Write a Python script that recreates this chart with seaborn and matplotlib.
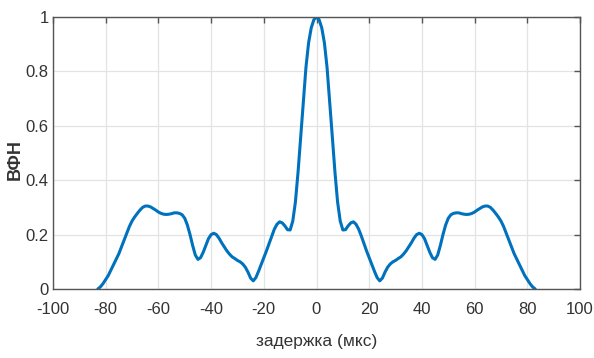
import numpy as np
import pandas as pd
import matplotlib
matplotlib.use("Agg")
import matplotlib.pyplot as plt
import seaborn as sns
from matplotlib import font_manager

# ---- data ----
delay_us = list(range(-83, 84))
vfn_left = [0.0, 0.008, 0.02, 0.035, 0.05, 0.07, 0.09, 0.11, 0.13, 0.155,
            0.18, 0.205, 0.23, 0.25, 0.265, 0.278, 0.29, 0.3, 0.305, 0.305,
            0.302, 0.296, 0.29, 0.283, 0.278, 0.275, 0.274, 0.275, 0.277, 0.28,
            0.28, 0.278, 0.273, 0.26, 0.235, 0.2, 0.16, 0.125, 0.109, 0.115,
            0.135, 0.16, 0.185, 0.2, 0.205, 0.2, 0.187, 0.17, 0.155, 0.14,
            0.128, 0.118, 0.112, 0.105, 0.1, 0.092, 0.08, 0.062, 0.04, 0.03,
            0.042, 0.065, 0.09, 0.115, 0.14, 0.167, 0.195, 0.22, 0.238, 0.247,
            0.243, 0.232, 0.218, 0.217, 0.25, 0.32, 0.43, 0.56, 0.69, 0.815,
            0.905, 0.96, 0.99]
vfn_center = [1.0]
vfn_right = [0.99, 0.96, 0.905, 0.815, 0.69, 0.56, 0.43, 0.32, 0.25, 0.217,
             0.218, 0.232, 0.243, 0.247, 0.238, 0.22, 0.195, 0.167, 0.14, 0.115,
             0.09, 0.065, 0.042, 0.03, 0.04, 0.062, 0.08, 0.092, 0.1, 0.105,
             0.112, 0.118, 0.128, 0.14, 0.155, 0.17, 0.187, 0.2, 0.205, 0.2,
             0.185, 0.16, 0.135, 0.115, 0.109, 0.125, 0.16, 0.2, 0.235, 0.26,
             0.273, 0.278, 0.28, 0.28, 0.277, 0.275, 0.274, 0.275, 0.278, 0.283,
             0.29, 0.296, 0.302, 0.305, 0.305, 0.3, 0.29, 0.278, 0.265, 0.25,
             0.23, 0.205, 0.18, 0.155, 0.13, 0.11, 0.09, 0.07, 0.05, 0.035,
             0.02, 0.008, 0.0]
vfn = vfn_left + vfn_center + vfn_right

x_ticks = [-100, -80, -60, -40, -20, 0, 20, 40, 60, 80, 100]
y_ticks = [0, 0.2, 0.4, 0.6, 0.8, 1]
y_tick_labels = ["0", "0.2", "0.4", "0.6", "0.8", "1"]
x_label = "задержка (мкс)"
y_label = "ВФН"

df = pd.DataFrame({"delay": delay_us, "vfn": vfn})

sns.set_style("white")
names = {f.name for f in font_manager.fontManager.ttflist}
tick_font = "Liberation Sans Narrow" if "Liberation Sans Narrow" in names else "Liberation Sans"
plt.rcParams["font.family"] = [tick_font, "DejaVu Sans"]

fig = plt.figure(figsize=(5.94, 3.58), dpi=100)
ax = fig.add_axes([53 / 594, 1 - 289 / 358, 527 / 594, 272 / 358])

sns.lineplot(data=df, x="delay", y="vfn", ax=ax, color="#0072BD", linewidth=2.2)

ax.set_xlim(-100, 100)
ax.set_ylim(0, 1)
ax.set_xticks(x_ticks)
ax.set_xticklabels([str(t) for t in x_ticks])
ax.set_yticks(y_ticks)
ax.set_yticklabels(y_tick_labels)
ax.grid(True, color="#e3e3e3", linewidth=0.9)
ax.set_axisbelow(True)
for s in ax.spines.values():
    s.set_visible(True)
    s.set_color("#555555")
    s.set_linewidth(1.0)
ax.tick_params(direction="in", length=4, width=1.0, color="#555555",
               top=True, right=True, labelsize=12, labelcolor="#333333")
ax.tick_params(axis="x", pad=9)
ax.tick_params(axis="y", pad=3)

ax.set_xlabel(x_label, fontsize=12.5, color="#333333")
ax.set_ylabel(y_label, fontsize=13, color="#333333", fontweight="bold",
              family=["Liberation Sans", "DejaVu Sans"])
ax.xaxis.set_label_coords(0.5, (289 - 334) / 272)
ax.yaxis.set_label_coords((24 - 53) / 527, (289 - 160) / 272)

fig.savefig("out.png", dpi=100)
